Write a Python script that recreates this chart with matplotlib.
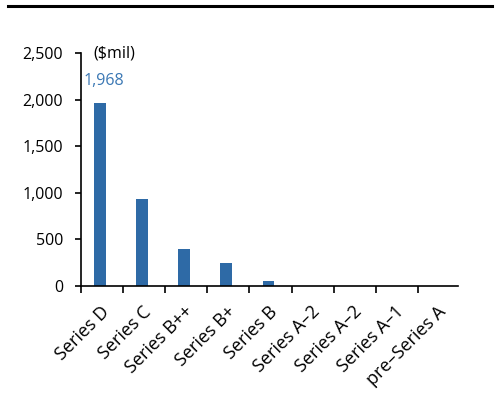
import matplotlib
matplotlib.use("Agg")
import matplotlib.pyplot as plt
from matplotlib.lines import Line2D
from matplotlib.ticker import FuncFormatter, FixedLocator
import numpy as np

categories = ["Series D", "Series C", "Series B++", "Series B+", "Series B",
              "Series A-2", "Series A-2", "Series A-1", "pre-Series A"]
values = [1968, 930, 400, 250, 55, 0, 4, 4, 4]
yticks = [0, 500, 1000, 1500, 2000, 2500]

bar_color = "#2e6aa6"
plt.rcParams["font.family"] = ["Open Sans", "DejaVu Sans"]

fig = plt.figure(figsize=(4.95, 4.11), dpi=100)
ax = fig.add_axes([0.1636, 0.304, 0.7616, 0.567])

x = np.arange(len(categories))
ax.bar(x, values, width=0.28, color=bar_color)

ax.set_xlim(-0.45, len(categories) - 0.5)
ax.set_ylim(0, 2500)
ax.set_yticks(yticks)
ax.yaxis.set_major_formatter(FuncFormatter(lambda v, p: f"{int(v):,}"))
ax.tick_params(axis="y", direction="out", length=4, width=1.2, labelsize=11.5, pad=9)

ax.set_xticks(x)
ax.set_xticklabels([c.replace("-", "\u2013") for c in categories], rotation=45,
                   ha="right", rotation_mode="anchor", fontsize=13)
ax.tick_params(axis="x", which="major", length=0, pad=12)
ax.xaxis.set_minor_locator(FixedLocator(np.arange(len(categories) + 1) - 0.45))
ax.tick_params(axis="x", which="minor", direction="out", length=5, width=1.2)

for s in ["top", "right"]:
    ax.spines[s].set_visible(False)
ax.spines["left"].set_linewidth(1.2)
ax.spines["bottom"].set_linewidth(1.2)

ax.text(0.1, values[0] + 150, f"{values[0]:,}", color="#3b78b4", ha="center",
        va="bottom", fontsize=11.5)
ax.text(0.35, 2500, "($mil)", ha="center", va="center", fontsize=11.5)

fig.add_artist(Line2D([8 / 495, 492 / 495], [1 - 6 / 411, 1 - 6 / 411],
                      color="black", linewidth=2.2))

fig.savefig("out.png", dpi=100)
